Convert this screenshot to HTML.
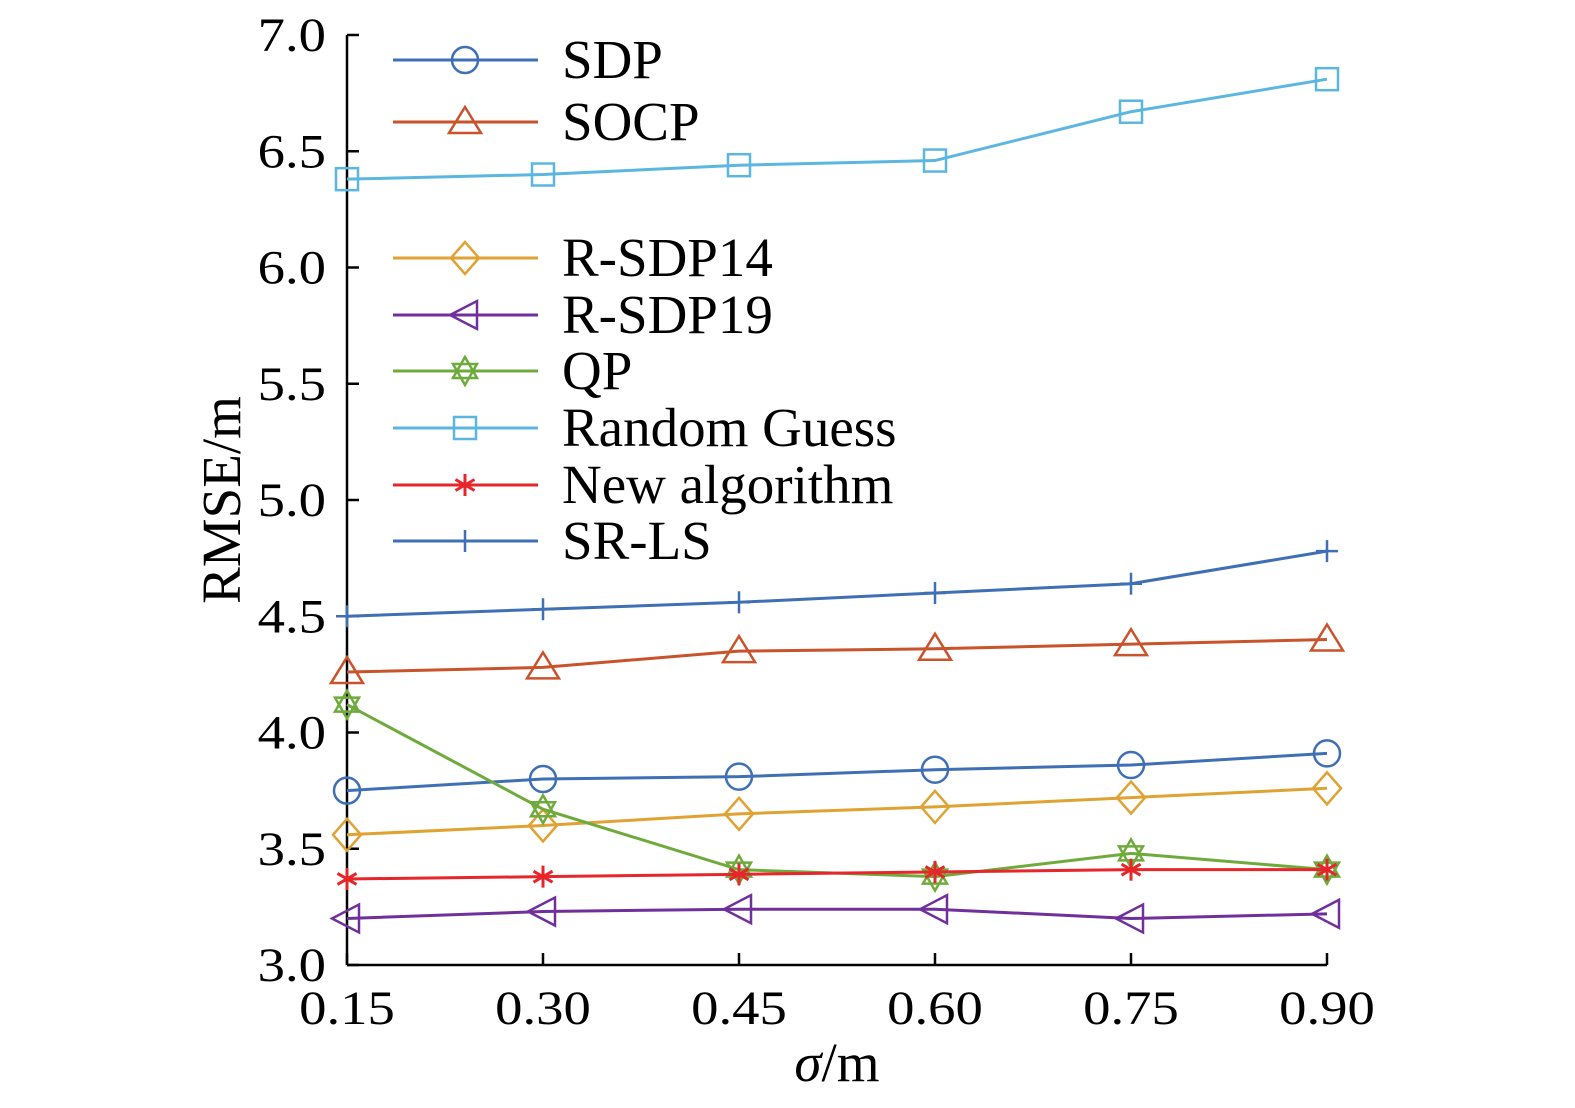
<!DOCTYPE html>
<html><head><meta charset="utf-8"><style>
html,body{margin:0;padding:0;background:#fff;}
svg{display:block;font-family:"Liberation Serif",serif;}
</style></head><body>
<svg id="chart" width="1575" height="1108" viewBox="0 0 1575 1108"></svg>
<script>
const categories=[0.15,0.30,0.45,0.60,0.75,0.90];
const xTickLabels=["0.15","0.30","0.45","0.60","0.75","0.90"];
const yTicks=[3.0,3.5,4.0,4.5,5.0,5.5,6.0,6.5,7.0];
const yTickLabels=["3.0","3.5","4.0","4.5","5.0","5.5","6.0","6.5","7.0"];
const sdp=[3.75,3.80,3.81,3.84,3.86,3.91];
const socp=[4.26,4.28,4.35,4.36,4.38,4.40];
const rsdp14=[3.56,3.60,3.65,3.68,3.72,3.76];
const rsdp19=[3.20,3.23,3.24,3.24,3.20,3.22];
const qp=[4.12,3.67,3.41,3.38,3.48,3.41];
const randomGuess=[6.38,6.40,6.44,6.46,6.67,6.81];
const newAlg=[3.37,3.38,3.39,3.40,3.41,3.41];
const srls=[4.50,4.53,4.56,4.60,4.64,4.78];

const NS="http://www.w3.org/2000/svg";
const svg=document.getElementById('chart');
const X0=347,X1=1327,Y0=965,Y1=35;
const xs=v=>X0+(v-0.15)/(0.75)*(X1-X0);
const ys=v=>Y0-(v-3)/4*(Y0-Y1);
function mk(tag,attrs,parent){const e=document.createElementNS(NS,tag);for(const k in attrs)e.setAttribute(k,attrs[k]);(parent||svg).appendChild(e);return e;}

const axes=mk('g',{});


mk('line',{x1:X0,y1:Y1,x2:X0,y2:Y0,stroke:'#000','stroke-width':2.5},axes);
mk('line',{x1:X0,y1:Y0,x2:X1,y2:Y0,stroke:'#000','stroke-width':2.5},axes);
yTicks.forEach((v,i)=>{
  mk('line',{x1:X0,y1:ys(v),x2:X0+12,y2:ys(v),stroke:'#000','stroke-width':2.5},axes);
  const t=mk('text',{x:0,y:0,'text-anchor':'end','font-size':48,transform:`translate(326,${ys(v)+16}) scale(1.14,1)`},axes);
  t.textContent=yTickLabels[i];
  
  
});
categories.forEach((v,i)=>{
  mk('line',{x1:xs(v),y1:Y0,x2:xs(v),y2:Y0-12,stroke:'#000','stroke-width':2.5},axes);
  const t=mk('text',{x:0,y:0,'text-anchor':'middle','font-size':48,transform:`translate(${xs(v)},1024) scale(1.14,1)`},axes);
  t.textContent=xTickLabels[i];
  
  
});
const yl=mk('text',{x:0,y:0,'text-anchor':'middle','font-size':55,transform:'translate(240,500) rotate(-90)'});
yl.textContent='RMSE/m';


const xl=mk('text',{x:837,y:1081,'text-anchor':'middle','font-size':55});
xl.innerHTML='<tspan font-style="italic">σ</tspan>/m';



function marker(g,type,x,y,c){
  const a={fill:'none',stroke:c,'stroke-width':2.5};
  if(type==='circle')mk('circle',Object.assign({cx:x,cy:y,r:13},a),g);
  else if(type==='tri')mk('polygon',Object.assign({points:`${x},${y-15} ${x+16},${y+11} ${x-16},${y+11}`},a),g);
  else if(type==='diamond')mk('polygon',Object.assign({points:`${x},${y-16} ${x+14},${y} ${x},${y+16} ${x-14},${y}`},a),g);
  else if(type==='ltri')mk('polygon',Object.assign({points:`${x-15},${y} ${x+12},${y-14} ${x+12},${y+14}`},a),g);
  else if(type==='square')mk('rect',Object.assign({x:x-11,y:y-11,width:22,height:22},a),g);
  else if(type==='star'){
    mk('polygon',Object.assign({points:`${x},${y-14} ${x+12},${y+7} ${x-12},${y+7}`},a),g);
    mk('polygon',Object.assign({points:`${x},${y+14} ${x+12},${y-7} ${x-12},${y-7}`},a),g);
  }else if(type==='ast'){
    for(const ang of [0,60,120]){const r=ang*Math.PI/180;mk('line',{x1:x-11*Math.sin(r),y1:y-11*Math.cos(r),x2:x+11*Math.sin(r),y2:y+11*Math.cos(r),stroke:c,'stroke-width':3},g);}
  }else if(type==='plus'){
    mk('line',{x1:x-11,y1:y,x2:x+11,y2:y,stroke:c,'stroke-width':2.5},g);
    mk('line',{x1:x,y1:y-11,x2:x,y2:y+11,stroke:c,'stroke-width':2.5},g);
  }
}
const series=[
 {name:'SDP',data:sdp,c:'#3f6fb5',m:'circle',ly:60,id:'sdp'},
 {name:'SOCP',data:socp,c:'#c9532b',m:'tri',ly:122,id:'socp'},
 {name:'R-SDP14',data:rsdp14,c:'#e0a232',m:'diamond',ly:258,id:'r-sdp14'},
 {name:'R-SDP19',data:rsdp19,c:'#70309c',m:'ltri',ly:315,id:'r-sdp19'},
 {name:'QP',data:qp,c:'#6fab3c',m:'star',ly:371,id:'qp'},
 {name:'Random Guess',data:randomGuess,c:'#5bb6e0',m:'square',ly:428,id:'random-guess'},
 {name:'New algorithm',data:newAlg,c:'#e6262a',m:'ast',ly:485,id:'new-algorithm'},
 {name:'SR-LS',data:srls,c:'#3f6fb5',m:'plus',ly:541,id:'sr-ls'}
];
series.forEach(s=>{
  const g=mk('g',{});
  
  
  const pts=s.data.map((v,i)=>xs(categories[i])+','+ys(v)).join(' ');
  mk('polyline',{points:pts,fill:'none',stroke:s.c,'stroke-width':3},g);
  s.data.forEach((v,i)=>marker(g,s.m,xs(categories[i]),ys(v),s.c));
  const lg=mk('g',{});
  
  
  mk('line',{x1:393,y1:s.ly,x2:538,y2:s.ly,stroke:s.c,'stroke-width':3},lg);
  marker(lg,s.m,465,s.ly,s.c);
  const t=mk('text',{x:562,y:s.ly+18,'font-size':55},lg);
  t.textContent=s.name;
});
</script>
</body></html>
